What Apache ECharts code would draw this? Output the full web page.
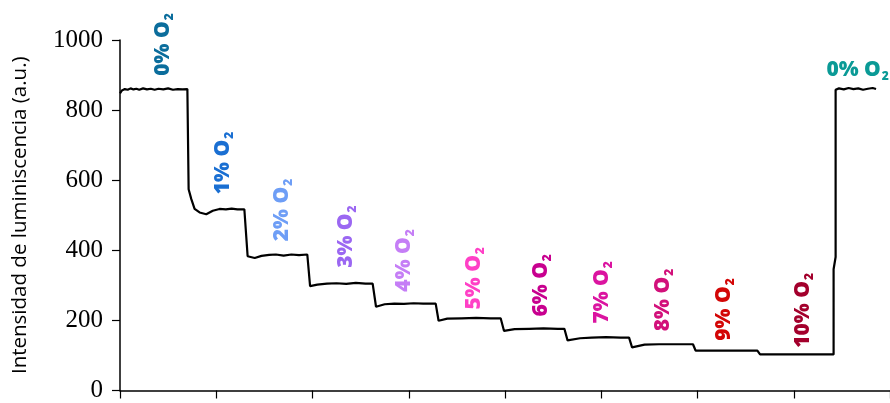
<!DOCTYPE html>
<html>
<head>
<meta charset="utf-8">
<script src="https://cdn.jsdelivr.net/npm/echarts@6/dist/echarts.min.js"></script>
<style>html,body{margin:0;padding:0;background:#fff}#c{width:890px;height:403px}</style>
</head>
<body>
<div id="c"></div>
<script>
// Time axis (arbitrary units, one tick per unit), luminescence values
const timeValues = [0, 0.02, 0.05, 0.08, 0.11, 0.14, 0.17, 0.20, 0.24, 0.28, 0.32, 0.36, 0.40, 0.45, 0.50, 0.55, 0.60, 0.65, 0.70, 0.713,
  0.713, 0.741, 0.775, 0.827, 0.896, 0.964, 1.034, 1.10, 1.16, 1.22, 1.292,
  1.292, 1.326, 1.40, 1.47, 1.55, 1.62, 1.70, 1.78, 1.86, 1.946,
  1.946, 1.975, 2.05, 2.15, 2.25, 2.35, 2.45, 2.55, 2.625,
  2.625, 2.66, 2.75, 2.85, 2.95, 3.05, 3.15, 3.28,
  3.28, 3.31, 3.40, 3.55, 3.70, 3.85, 3.955,
  3.955, 3.99, 4.10, 4.25, 4.40, 4.55, 4.617,
  4.617, 4.65, 4.78, 4.90, 5.05, 5.20, 5.289,
  5.289, 5.32, 5.45, 5.60, 5.75, 5.953,
  5.953, 5.98, 6.20, 6.40, 6.622,
  6.622, 6.65, 6.90, 7.15, 7.414,
  7.414, 7.435, 7.435, 7.47, 7.52, 7.57, 7.62, 7.67, 7.72, 7.77, 7.82, 7.855];
const intensityValues = [848, 856, 860, 858, 862, 859, 861, 858, 862, 859, 861, 858, 861, 859, 862, 858, 860, 859, 860, 860,
  574, 546, 518, 508, 503, 513, 518, 517, 519, 517, 517,
  517, 383, 378, 384, 387, 388, 385, 388, 386, 388,
  388, 298, 302, 305, 306, 304, 307, 305, 305,
  305, 239, 246, 248, 247, 249, 248, 248,
  248, 199, 205, 206, 207, 206, 206,
  206, 170, 175, 176, 177, 176, 176,
  176, 143, 149, 151, 152, 151, 151,
  151, 123, 131, 132, 132, 132,
  132, 114, 114, 114, 114,
  114, 103, 103, 103, 103,
  346, 381, 858, 862, 859, 863, 860, 862, 858, 861, 863, 860];

// Oxygen level annotations
const o2Labels = ['0%', '1%', '2%', '3%', '4%', '5%', '6%', '7%', '8%', '9%', '10%', '0%'];
const o2LabelTime = [0.450, 1.075, 1.679, 2.351, 2.956, 3.680, 4.372, 5.009, 5.643, 6.274, 7.101, 7.339];
const o2LabelLevel = [898, 560, 426, 350, 282, 231, 211, 191, 169, 142, 122, 915];
const o2Colors = ['#0b6d9c', '#1a6fd2', '#6e9ef6', '#9b67f2', '#c57ef6', '#ff40c6', '#c8008f', '#db14a0', '#d2107a', '#d30606', '#a3002c', '#0a9a96'];

const yTicks = { min: 0, max: 1000, interval: 200 };
const xTicks = { min: 0, max: 8, interval: 1 };

const lineData = timeValues.map((t, i) => [t, intensityValues[i]]);
const labelData = o2Labels.map((s, i) => ({
  value: [o2LabelTime[i], o2LabelLevel[i]],
  name: s,
  label: {
    rotate: i === o2Labels.length - 1 ? 0 : 90,
    color: o2Colors[i],
    rich: {
      m: { color: o2Colors[i], fontSize: 21, fontWeight: 900, fontFamily: 'Open Sans', textBorderWidth: 0 },
      s: { color: o2Colors[i], fontSize: 12, fontWeight: 900, fontFamily: 'Open Sans', padding: [13, 0, 0, 1], textBorderWidth: 0 }
    }
  }
}));

const chart = echarts.init(document.getElementById('c'), null, { renderer: 'canvas' });
chart.setOption({
  animation: false,
  backgroundColor: '#fff',
  grid: { left: 120, right: -4, top: 40, bottom: 10.5, containLabel: false },
  xAxis: {
    type: 'value', min: xTicks.min, max: xTicks.max, interval: xTicks.interval,
    axisLine: { lineStyle: { color: '#000', width: 1.5 } },
    axisTick: { show: true, length: 8, lineStyle: { color: '#000', width: 1.2 } },
    axisLabel: { show: false },
    splitLine: { show: false }
  },
  yAxis: {
    type: 'value', min: yTicks.min, max: yTicks.max, interval: yTicks.interval,
    name: 'Intensidad de luminiscencia (a.u.)',
    nameLocation: 'middle', nameGap: 89, nameRotate: 90,
    nameTextStyle: { fontFamily: 'Open Sans', fontSize: 20.5, color: '#000' },
    axisLine: { show: true, lineStyle: { color: '#000', width: 1.5 } },
    axisTick: { show: true, length: 8, lineStyle: { color: '#000', width: 1.2 } },
    axisLabel: { fontFamily: "'Liberation Serif', 'Times New Roman', serif", fontSize: 25, color: '#000', margin: 17,
      formatter: v => String(v) },
    splitLine: { show: false }
  },
  series: [
    {
      type: 'line', data: lineData, showSymbol: false, symbol: 'none',
      lineStyle: { color: '#000', width: 2.2 }, clip: false
    },
    {
      type: 'scatter', data: labelData, symbolSize: 0, clip: false, silent: true,
      itemStyle: { opacity: 1 },
      label: {
        show: true, position: 'inside', align: 'left', verticalAlign: 'middle',
        textBorderWidth: 0, opacity: 1,
        formatter: p => '{m|' + p.name + ' O}{s|2}'
      }
    }
  ]
});
</script>
</body>
</html>
